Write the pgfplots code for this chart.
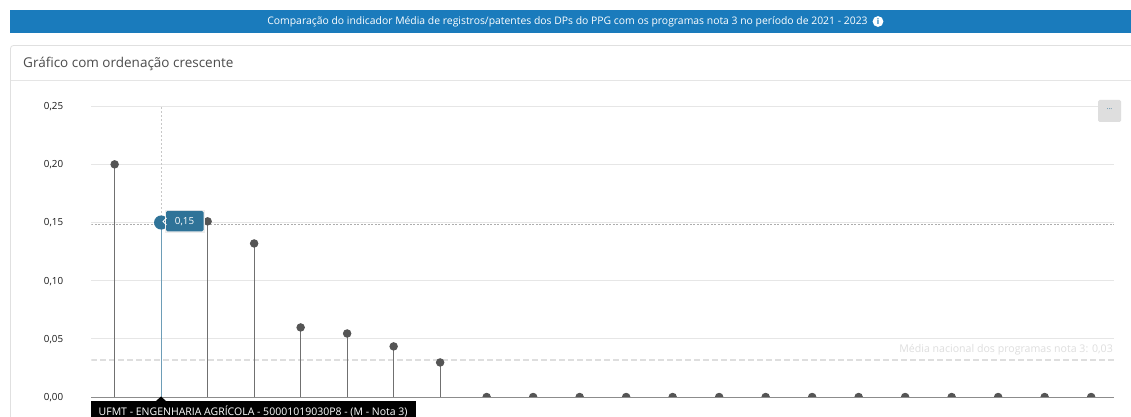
\documentclass[border=0pt]{standalone}
\usepackage{fontspec}
\setmainfont{Open Sans}
\usepackage{pgfplots}
\pgfplotsset{compat=1.18}
\definecolor{banner}{HTML}{1A7BBC}
\definecolor{stem}{HTML}{707070}
\definecolor{dot}{HTML}{555555}
\definecolor{hover}{HTML}{2F7398}
\definecolor{gridc}{HTML}{E6E6E6}
\begin{document}
\begin{tikzpicture}[x=1pt,y=1pt]
\path[use as bounding box,fill=white] (0,0) rectangle (1131,417);
\begin{scope}[x=1pt,y=-1pt,shift={(0,417pt)}]
\fill[banner] (10,10) rectangle (1131,33);
\draw[white!88!black,line width=0.8pt,rounded corners=3pt] (1132,45.5) -- (10.5,45.5) -- (10.5,418);
\draw[white!90!black,line width=0.8pt] (10.5,80.5) -- (1131,80.5);
\node[anchor=center,text=white,font=\fontsize{10.4}{12}\selectfont,inner sep=0] at (567.5,21.5) {Comparação do indicador Média de registros/patentes dos DPs do PPG com os programas nota 3 no período de 2021 - 2023};
\fill[white] (878,21.5) circle (5.4);
\node[text=banner,font=\fontsize{8}{9}\selectfont\bfseries,inner sep=0] at (878,21.5) {i};
\node[anchor=west,text=black!70,font=\fontsize{13.5}{15}\selectfont,inner sep=0] at (23,63.5) {Gráfico com ordenação crescente};
\end{scope}
\begin{axis}[
  at={(91.4pt,20pt)}, anchor=south west, scale only axis,
  width=1023pt, height=290.8pt,
  xmin=-0.5, xmax=21.5, ymin=0, ymax=0.25,
  xtick=\empty,
  ytick={0,0.05,0.10,0.15,0.20,0.25},
  ymajorgrids, grid style={gridc,line width=0.8pt},
  axis x line*=bottom, axis y line*=left,
  y axis line style={draw=none},
  x axis line style={draw=black!45,line width=0.8pt},
  major tick length=0pt,
  clip marker paths=true,
  yticklabel style={/pgf/number format/.cd,fixed,fixed zerofill,precision=2,use comma,assume math mode=true,
    /tikz/.cd,font=\fontsize{9.8}{11}\selectfont,text=black!90,inner sep=0pt,anchor=east,xshift=-28pt,yshift=-0.5pt},
]
\addplot[black!13,line width=1.6pt,dash pattern=on 6pt off 3pt] coordinates {(-0.5,0.0318) (21.5,0.0318)};
\addplot[black!32,line width=0.6pt,dash pattern=on 2pt off 1.5pt] coordinates {(-0.5,0.1485) (21.5,0.1485)};
\addplot[black!22,line width=0.8pt,dash pattern=on 2pt off 2pt] coordinates {(1,0) (1,0.25)};
\addplot+[ycomb,stem,line width=1pt,mark=*,mark size=3.7pt,mark options={dot,fill=dot,draw=dot,solid}] coordinates {
(0,0.2)(2,0.151)(3,0.132)(4,0.0598)(5,0.0546)(6,0.0435)(7,0.0297)
(8,0)(9,0)(10,0)(11,0)(12,0)(13,0)(14,0)(15,0)(16,0)(17,0)(18,0)(19,0)(20,0)(21,0)};
\addplot+[ycomb,hover!70,line width=1.1pt,mark=*,mark size=6.5pt,mark options={hover,fill=hover,draw=hover,solid}] coordinates {(1,0.15)};
\end{axis}
\begin{scope}[x=1pt,y=-1pt,shift={(0,417pt)}]
\node[anchor=east,text=black!13,font=\fontsize{10.6}{12}\selectfont,inner sep=0] at (1113,350) {Média nacional dos programas nota 3: 0,03};
\fill[black!7] (165,210) rectangle (205,233);
\fill[hover,rounded corners=1.5pt] (166,211) rectangle (203.5,231.5);
\draw[white,line width=0.8pt] (166.5,218) -- (163,221.5) -- (166.5,225);
\node[text=white,font=\fontsize{9.8}{11}\selectfont,inner sep=0] at (184.5,222) {0,15};
\fill[black] (156,401) -- (161,396.5) -- (166,401) -- cycle;
\fill[black] (91,401) rectangle (416,418);
\node[anchor=west,text=white,font=\fontsize{10.5}{12}\selectfont,inner sep=0] at (98.5,411) {UFMT - ENGENHARIA AGRÍCOLA - 50001019030P8 - (M - Nota 3)};
\fill[black!13,rounded corners=1.5pt] (1098,100) rectangle (1121,122);
\node[text=hover,font=\fontsize{7}{8}\selectfont,inner sep=0] at (1109.5,109.5) {...};
\end{scope}
\end{tikzpicture}
\end{document}
